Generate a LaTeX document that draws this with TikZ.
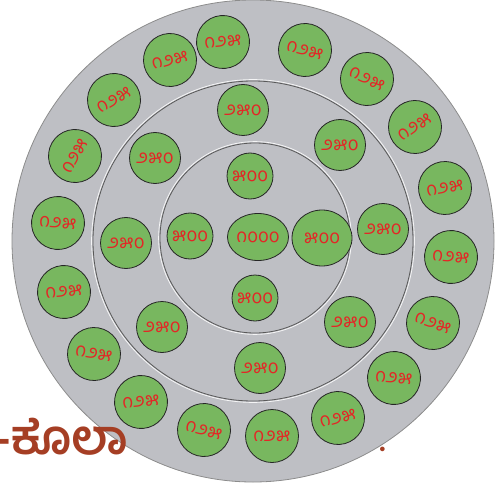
\documentclass[tikz,border=0pt]{standalone}
\usepackage{fontspec}
\usetikzlibrary{shapes.geometric}
\newfontfamily\kn[Script=Kannada]{Hind Mysuru}
\definecolor{discgray}{RGB}{190,191,196}
\definecolor{coingreen}{RGB}{120,183,95}
\definecolor{numred}{RGB}{228,38,38}
\definecolor{textbrown}{RGB}{165,62,36}

\begin{document}
\begin{tikzpicture}
[
	x=1bp,
	y=-1bp,
	coin/.style={circle,draw=black!85,line width=0.8bp,fill=coingreen,inner sep=0pt,
	  minimum size=#1,text=numred,font=\kn\fontsize{19}{19}\selectfont},
	coin/.default=53bp,
	bigcoin/.style={ellipse,draw=black!85,line width=0.8bp,fill=coingreen,inner sep=0pt,
	  text=numred,font=\kn\fontsize{19}{19}\selectfont},
	ring/.style={draw=black!65,line width=0.8bp},
	glint/.style={draw=white!85!discgray,line width=0.8bp},
	caption/.style={text=textbrown,font=\kn\bfseries\fontsize{48}{48}\selectfont,inner sep=0pt}
]

	\useasboundingbox (0,0) rectangle (502,484);

	% disc and rings
	\coordinate (mid) at (253,241);
	\filldraw[fill=discgray,draw=black!45,line width=0.8bp] (mid) circle[radius=241];
	\draw[glint] (253,241) circle[radius=161.4];
	\draw[ring] (253,241) circle[radius=160];
	\draw[glint] (255,238) circle[radius=96.4];
	\draw[ring] (255,238) circle[radius=95];

	% text cut at the disc
	\begin{scope}
	  \clip (0,380) rectangle (131,484);
	  \node[caption,anchor=base west] (words) at (-6,454) {-ಕೊಲಾ};
	\end{scope}
	\node[caption,anchor=base,font=\kn\bfseries\fontsize{30}{30}\selectfont] (stop) at (383,451) {.};

	% outer ring: 125
	\foreach \x/\y/\a [count=\i] in {
	  223/42/5, 305/50/-15, 367/79/-25, 415/127/35, 445/188/10, 451/257/-5,
	  433/323/-20, 394/378/-5, 338/418/15, 272/436/0, 204/430/-15, 141/402/5,
	  94/354/-10, 64/292/5, 58/223/-5, 75/156/60, 114/100/30, 170/60/15}
	  \node[coin,rotate=\a] (outer\i) at (\x,\y) {೧೨೫};

	% middle ring: 250
	\foreach \x/\y [count=\i] in {
	  243/110, 340/145, 383/229, 350/322, 260/368, 162/327, 126/243, 155/158}
	  \node[coin=51bp] (middle\i) at (\x,\y) {೨೫೦};

	% inner ring: 500 and 1000
	\node[coin=46bp] (inner1) at (250,176) {೫೦೦};
	\node[coin=46bp] (inner2) at (190,236) {೫೦೦};
	\node[coin=46bp] (inner3) at (255,298) {೫೦೦};
	\node[bigcoin,minimum width=54bp,minimum height=47bp] (centre) at (258,237) {೧೦೦೦};
	\node[bigcoin,minimum width=60bp,minimum height=56bp] (inner4) at (322,238) {೫೦೦};

\end{tikzpicture}
\end{document}
